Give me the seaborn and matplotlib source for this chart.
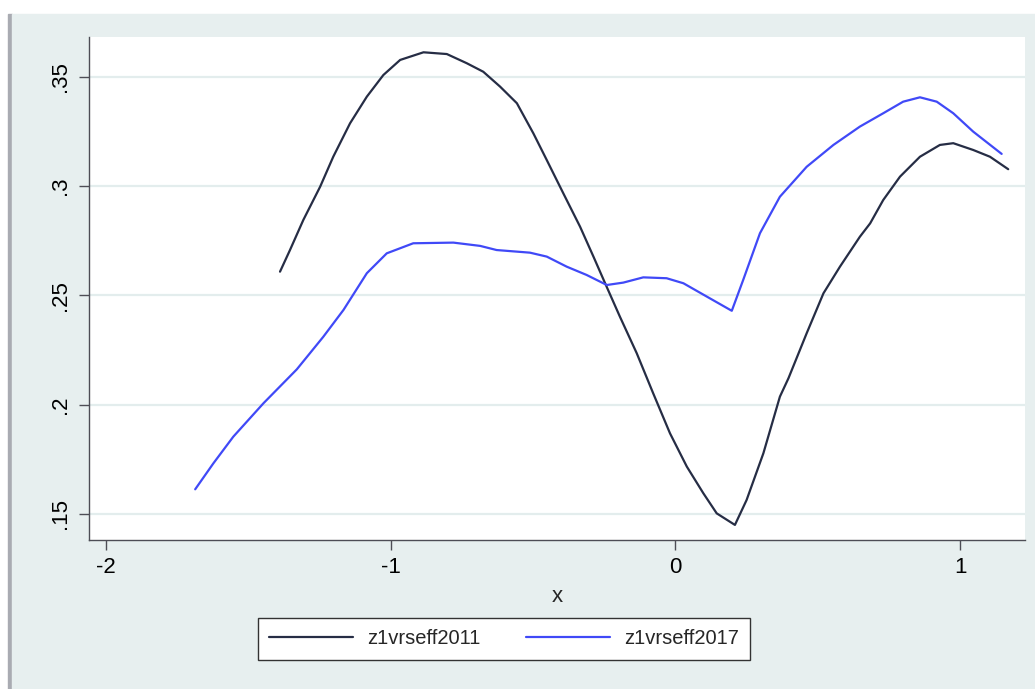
import seaborn as sns
import matplotlib.pyplot as plt
import matplotlib.patches as mpatches
import numpy as np
import pandas as pd

# Data
x_2011 = [-1.389, -1.354, -1.307, -1.248, -1.202, -1.143, -1.084, -1.026, -0.967, -0.885,
          -0.803, -0.733, -0.675, -0.616, -0.557, -0.499, -0.452, -0.394, -0.335, -0.288,
          -0.247, -0.195, -0.136, -0.078, -0.019, 0.040, 0.098, 0.145, 0.209, 0.250,
          0.309, 0.367, 0.397, 0.461, 0.520, 0.578, 0.648, 0.684, 0.730, 0.789,
          0.859, 0.929, 0.976, 1.046, 1.105, 1.169]
y_2011 = [0.2609, 0.2708, 0.2846, 0.2998, 0.3135, 0.3288, 0.3410, 0.3509, 0.3578, 0.3613,
          0.3605, 0.3563, 0.3524, 0.3456, 0.3380, 0.3242, 0.3120, 0.2968, 0.2815, 0.2678,
          0.2556, 0.2403, 0.2236, 0.2052, 0.1869, 0.1717, 0.1595, 0.1503, 0.1450, 0.1564,
          0.1778, 0.2037, 0.2121, 0.2327, 0.2510, 0.2632, 0.2769, 0.2830, 0.2937, 0.3044,
          0.3135, 0.3189, 0.3197, 0.3166, 0.3135, 0.3078]

x_2017 = [-1.687, -1.623, -1.553, -1.447, -1.330, -1.237, -1.166, -1.084, -1.014, -0.921,
          -0.780, -0.686, -0.628, -0.511, -0.452, -0.382, -0.312, -0.241, -0.183, -0.113,
          -0.031, 0.028, 0.121, 0.198, 0.238, 0.297, 0.367, 0.461, 0.555, 0.648,
          0.730, 0.800, 0.859, 0.918, 0.976, 1.046, 1.146]
y_2017 = [0.1613, 0.1732, 0.1854, 0.2007, 0.2162, 0.2311, 0.2434, 0.2602, 0.2693, 0.2739,
          0.2742, 0.2727, 0.2708, 0.2696, 0.2678, 0.2632, 0.2594, 0.2548, 0.2559, 0.2583,
          0.2579, 0.2556, 0.2487, 0.2430, 0.2571, 0.2785, 0.2952, 0.3089, 0.3189, 0.3273,
          0.3334, 0.3387, 0.3407, 0.3387, 0.3334, 0.3250, 0.3148]

series_names = ['z1vrseff2011', 'z1vrseff2017']
x_ticks = [-2, -1, 0, 1]
x_ticklabels = ['-2', '-1', '0', '1']
y_ticks = [0.15, 0.2, 0.25, 0.3, 0.35]
y_ticklabels = ['.15', '.2', '.25', '.3', '.35']

df = pd.DataFrame({
    'x': x_2011 + x_2017,
    'y': y_2011 + y_2017,
    'series': [series_names[0]] * len(x_2011) + [series_names[1]] * len(x_2017),
})

sns.set_style('white')
plt.rcParams['font.family'] = ['Liberation Sans', 'DejaVu Sans']

panel = '#e7efef'
fig = plt.figure(figsize=(10.35, 6.89), dpi=100)
fig.patch.set_facecolor('white')
# Stata-like outer panel with a grey left strip
fig.patches.append(mpatches.Rectangle((8 / 1035, 0), 4 / 1035, 1 - 14 / 689,
                                      transform=fig.transFigure, color='#a9abb2', zorder=0))
fig.patches.append(mpatches.Rectangle((12 / 1035, 0), 1, 1 - 14 / 689,
                                      transform=fig.transFigure, color=panel, zorder=0))

ax = fig.add_axes([89 / 1035, 1 - 540 / 689, (1025 - 89) / 1035, (540 - 37) / 689])
ax.set_zorder(2)
ax.set_facecolor('white')

palette = {series_names[0]: '#262d45', series_names[1]: '#4049f7'}
sns.lineplot(data=df, x='x', y='y', hue='series', palette=palette,
             linewidth=1.6, estimator=None, ax=ax, legend=False)

ax.set_xlim(-2.06, 1.228)
ax.set_ylim(0.1381, 0.3683)
ax.set_xticks(x_ticks)
ax.set_xticklabels(x_ticklabels)
ax.set_yticks(y_ticks)
ax.set_yticklabels(y_ticklabels, rotation=90, va='center')
ax.yaxis.grid(True, color='#e3eded', linewidth=1.6)
ax.set_axisbelow(True)
for s in ['top', 'right']:
    ax.spines[s].set_visible(False)
for s in ['left', 'bottom']:
    ax.spines[s].set_color('#4d4d55')
    ax.spines[s].set_linewidth(1.0)
ax.tick_params(direction='out', length=7, width=1, color='#4d4d55',
               labelsize=16, labelcolor='black', pad=5, left=True, bottom=True)
ax.tick_params(axis='y', pad=6)
ax.set_xlabel('x', fontsize=16, labelpad=6)
ax.set_ylabel('')

handles = [plt.Line2D([], [], color=palette[n], linewidth=1.6) for n in series_names]
leg = fig.legend(handles, series_names, loc='center left', ncol=2,
                 bbox_to_anchor=(258 / 1035, 1 - 639 / 689),
                 fontsize=14.5, handlelength=4.15, handletextpad=0.7, columnspacing=2.3,
                 borderpad=0.55, frameon=True, fancybox=False, framealpha=1,
                 borderaxespad=0)
leg.get_frame().set_edgecolor('#333333')
leg.get_frame().set_linewidth(1.0)
leg.set_zorder(3)

fig.savefig('out.png', dpi=100, facecolor=fig.get_facecolor())
